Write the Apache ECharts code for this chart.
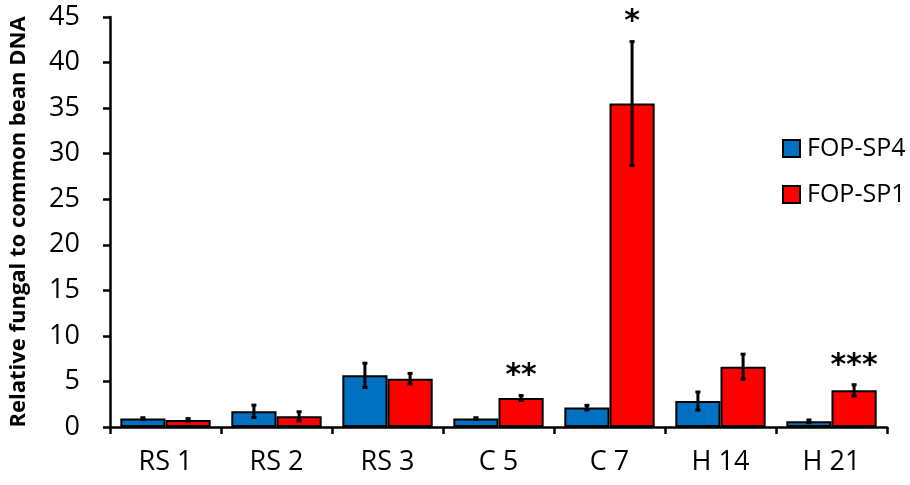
<!DOCTYPE html>
<html><head><meta charset="utf-8">
<script src="https://cdn.jsdelivr.net/npm/echarts@6/dist/echarts.min.js"></script>
<style>html,body{margin:0;padding:0;background:#fff}#c{width:910px;height:485px}</style>
</head><body><div id="c"></div>
<script>
const categories = ['RS 1','RS 2','RS 3','C 5','C 7','H 14','H 21'];
const sp4 = [0.92, 1.72, 5.67, 0.92, 2.13, 2.85, 0.62];
const sp4Err = [0.1, 0.68, 1.33, 0.1, 0.25, 0.99, 0.15];
const sp1 = [0.77, 1.17, 5.3, 3.18, 35.5, 6.62, 4.02];
const sp1Err = [0.15, 0.5, 0.58, 0.27, 6.8, 1.37, 0.62];
const sp1Sig = ['', '', '', '**', '*', '', '***'];
const yTicks = [0, 5, 10, 15, 20, 25, 30, 35, 40, 45];

const FONT = '"Open Sans", Lato, sans-serif';
const CAT_GAP = 0.186;

function errSeries(vals, errs, sigs, side) {
  return {
    type: 'custom',
    z: 10,
    silent: true,
    data: vals.map((v, i) => [i, v, errs[i]]),
    renderItem: function (params, api) {
      const idx = api.value(0), v = api.value(1), e = api.value(2);
      const sig = sigs ? sigs[idx] : '';
      const band = api.size([1, 0])[0];
      const barW = band * (1 - CAT_GAP) / 2;
      const c = api.coord([idx, v]);
      const x = c[0] + side * barW / 2;
      const top = api.coord([idx, v + e])[1];
      const bot = api.coord([idx, v - e])[1];
      const children = [
        {type: 'line', shape: {x1: x, y1: top, x2: x, y2: bot}, style: {stroke: '#000', lineWidth: 3}},
        {type: 'line', shape: {x1: x - 2.5, y1: top, x2: x + 2.5, y2: top}, style: {stroke: '#000', lineWidth: 3}},
        {type: 'line', shape: {x1: x - 2.5, y1: bot, x2: x + 2.5, y2: bot}, style: {stroke: '#000', lineWidth: 3}}
      ];
      if (sig) {
        children.push({type: 'text', style: {text: sig, x: x, y: top - 4, align: 'center', verticalAlign: 'bottom',
          font: 'bold 30px "DejaVu Sans", sans-serif', fill: '#000'}});
      }
      return {type: 'group', children: children};
    }
  };
}

const chart = echarts.init(document.getElementById('c'));
chart.setOption({
  animation: false,
  backgroundColor: '#fff',
  grid: {left: 107, right: 23, top: 17, bottom: 58},
  legend: {
    data: ['FOP-SP4', 'FOP-SP1'],
    orient: 'vertical',
    left: 777, top: 131,
    itemWidth: 17, itemHeight: 17, itemGap: 21,
    icon: 'rect',
    itemStyle: {borderColor: '#000', borderWidth: 2},
    textStyle: {fontFamily: FONT, fontSize: 25, color: '#000', padding: [0, 0, 0, 2]}
  },
  xAxis: {
    type: 'category',
    data: categories,
    axisLine: {lineStyle: {color: '#000', width: 2.5}},
    axisTick: {show: true, length: 7, lineStyle: {color: '#000', width: 2.5}},
    axisLabel: {fontFamily: FONT, fontSize: 27, color: '#000', margin: 22}
  },
  yAxis: {
    type: 'value',
    min: 0, max: 45, interval: 5,
    name: 'Relative fungal to common bean DNA',
    nameLocation: 'middle',
    nameGap: 80,
    nameTextStyle: {fontFamily: FONT, fontSize: 22, fontWeight: 'bold', color: '#000'},
    splitLine: {show: false},
    axisLine: {show: true, lineStyle: {color: '#000', width: 2.5}},
    axisTick: {show: true, length: 7, lineStyle: {color: '#000', width: 2.5}},
    axisLabel: {fontFamily: FONT, fontSize: 27, color: '#000', margin: 30,
      formatter: v => yTicks.includes(v) ? String(v) : ''}
  },
  series: [
    {name: 'FOP-SP4', type: 'bar', data: sp4, barGap: '0%', barCategoryGap: (CAT_GAP * 100) + '%',
      itemStyle: {color: '#0070C0', borderColor: '#000', borderWidth: 2}},
    {name: 'FOP-SP1', type: 'bar', data: sp1, barGap: '0%', barCategoryGap: (CAT_GAP * 100) + '%',
      itemStyle: {color: '#FF0000', borderColor: '#000', borderWidth: 2}},
    errSeries(sp4, sp4Err, null, -1),
    errSeries(sp1, sp1Err, sp1Sig, 1)
  ]
});
</script></body></html>
